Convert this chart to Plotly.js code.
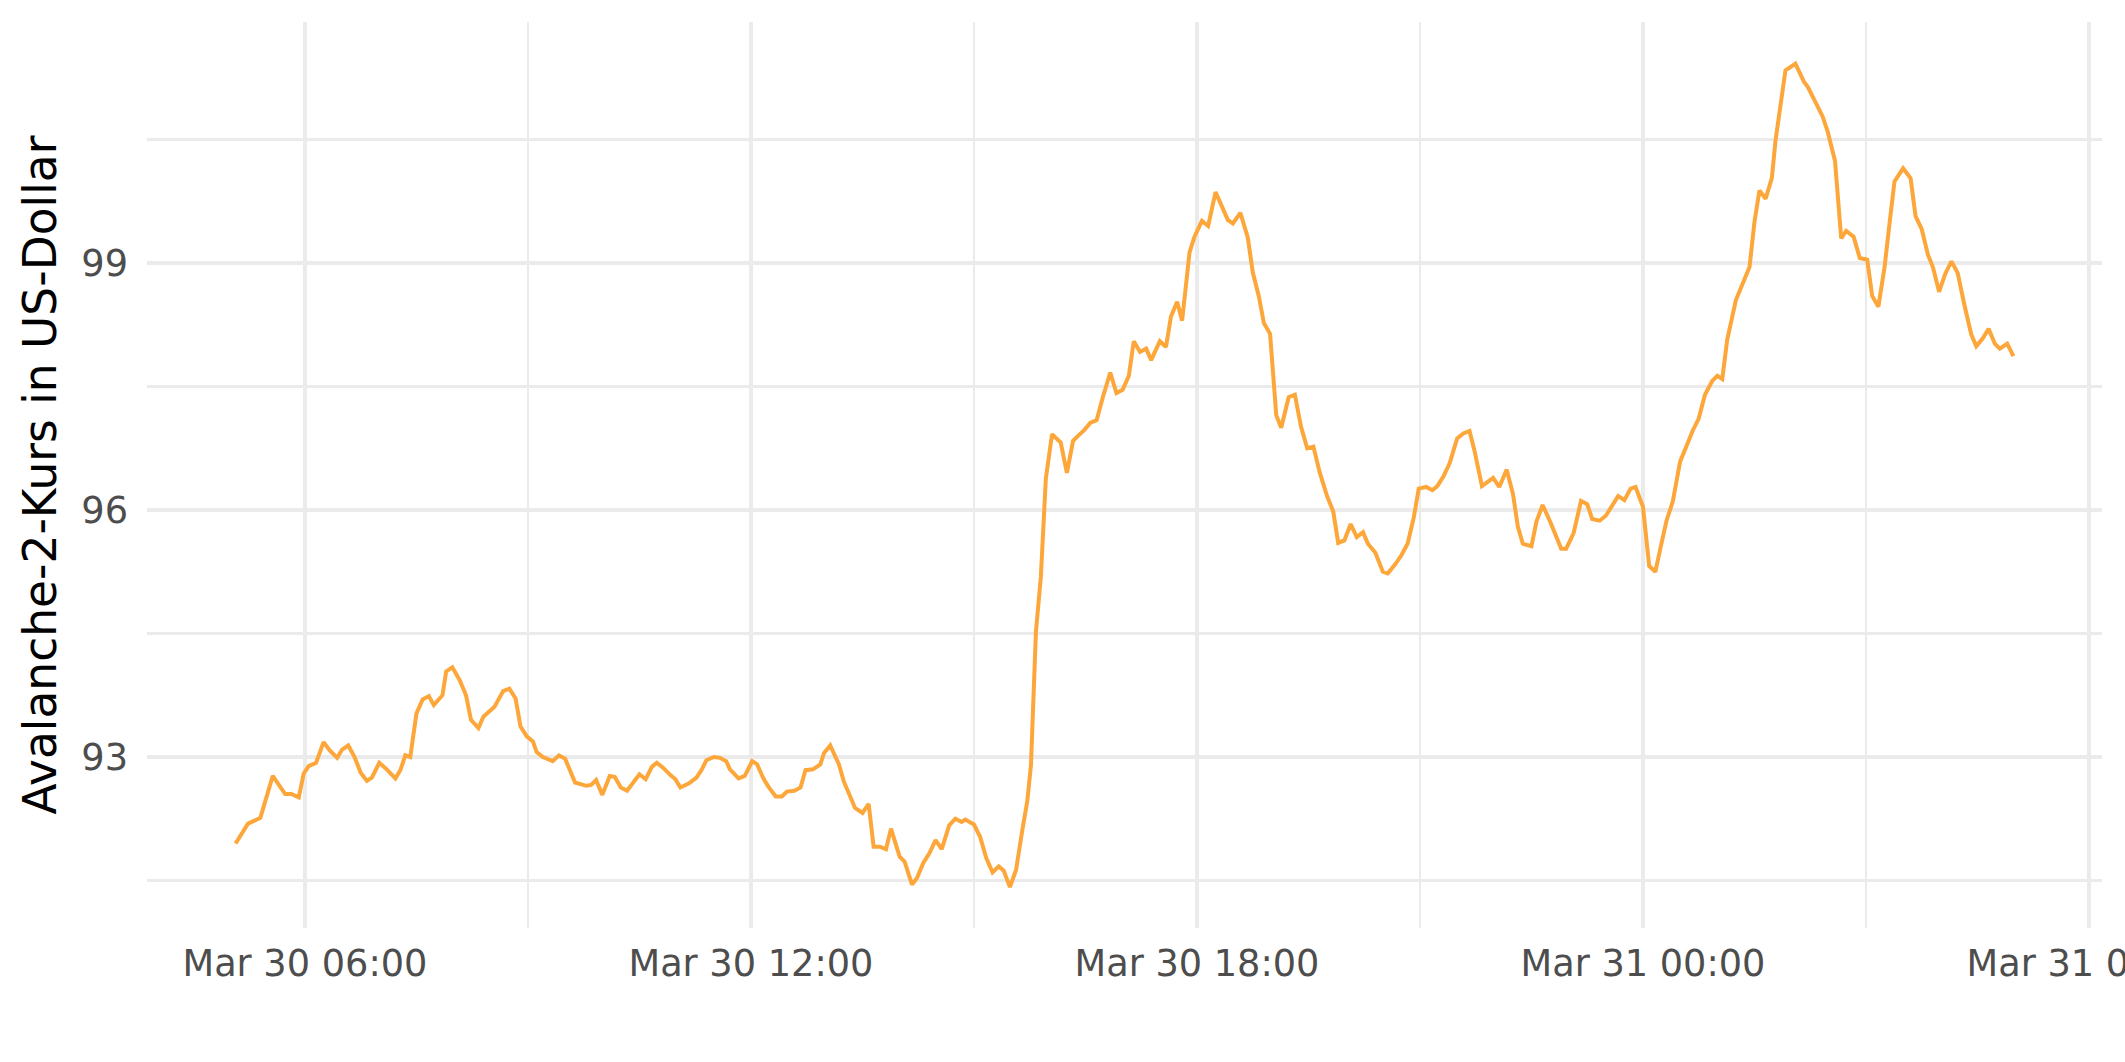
<!DOCTYPE html>
<html>
<head>
<meta charset="utf-8">
<script src="https://cdn.plot.ly/plotly-3.0.1.min.js"></script>
<style>
  html, body { margin: 0; padding: 0; background: #ffffff; }
  #chart { width: 2125px; height: 1062px; }
</style>
</head>
<body>
<div id="chart"></div>
<script>
// Avalanche-2 price (USD)
const time = [
  "2024-03-30 05:04","2024-03-30 05:10","2024-03-30 05:14","2024-03-30 05:24","2024-03-30 05:34","2024-03-30 05:44",
  "2024-03-30 05:49","2024-03-30 05:55","2024-03-30 05:59","2024-03-30 06:03","2024-03-30 06:09","2024-03-30 06:15",
  "2024-03-30 06:20","2024-03-30 06:26","2024-03-30 06:30","2024-03-30 06:35","2024-03-30 06:40","2024-03-30 06:45",
  "2024-03-30 06:50","2024-03-30 06:54","2024-03-30 07:00","2024-03-30 07:06","2024-03-30 07:13","2024-03-30 07:17",
  "2024-03-30 07:21","2024-03-30 07:25","2024-03-30 07:30","2024-03-30 07:35","2024-03-30 07:40","2024-03-30 07:44",
  "2024-03-30 07:51","2024-03-30 07:54","2024-03-30 07:59","2024-03-30 08:05","2024-03-30 08:10","2024-03-30 08:14",
  "2024-03-30 08:20","2024-03-30 08:24","2024-03-30 08:29","2024-03-30 08:33","2024-03-30 08:40","2024-03-30 08:45",
  "2024-03-30 08:50","2024-03-30 08:54","2024-03-30 08:59","2024-03-30 09:04","2024-03-30 09:07","2024-03-30 09:12",
  "2024-03-30 09:20","2024-03-30 09:25","2024-03-30 09:30","2024-03-30 09:38","2024-03-30 09:47","2024-03-30 09:51",
  "2024-03-30 09:55","2024-03-30 10:00","2024-03-30 10:06","2024-03-30 10:10","2024-03-30 10:15","2024-03-30 10:20",
  "2024-03-30 10:25","2024-03-30 10:30","2024-03-30 10:35","2024-03-30 10:40","2024-03-30 10:44","2024-03-30 10:49",
  "2024-03-30 10:55","2024-03-30 10:59","2024-03-30 11:03","2024-03-30 11:10","2024-03-30 11:16","2024-03-30 11:20",
  "2024-03-30 11:24","2024-03-30 11:30","2024-03-30 11:35","2024-03-30 11:40","2024-03-30 11:43","2024-03-30 11:50",
  "2024-03-30 11:55","2024-03-30 12:01","2024-03-30 12:05","2024-03-30 12:10","2024-03-30 12:14","2024-03-30 12:20",
  "2024-03-30 12:25","2024-03-30 12:29","2024-03-30 12:35","2024-03-30 12:40","2024-03-30 12:44","2024-03-30 12:50",
  "2024-03-30 12:56","2024-03-30 12:59","2024-03-30 13:04","2024-03-30 13:11","2024-03-30 13:15","2024-03-30 13:20",
  "2024-03-30 13:24","2024-03-30 13:30","2024-03-30 13:35","2024-03-30 13:39","2024-03-30 13:44","2024-03-30 13:49",
  "2024-03-30 13:53","2024-03-30 14:00","2024-03-30 14:04","2024-03-30 14:10","2024-03-30 14:14","2024-03-30 14:19",
  "2024-03-30 14:24","2024-03-30 14:29","2024-03-30 14:34","2024-03-30 14:40","2024-03-30 14:45","2024-03-30 14:50",
  "2024-03-30 14:53","2024-03-30 15:00","2024-03-30 15:05","2024-03-30 15:10","2024-03-30 15:15","2024-03-30 15:20",
  "2024-03-30 15:24","2024-03-30 15:29","2024-03-30 15:34","2024-03-30 15:39","2024-03-30 15:43","2024-03-30 15:46",
  "2024-03-30 15:50","2024-03-30 15:54","2024-03-30 15:58","2024-03-30 16:03","2024-03-30 16:10","2024-03-30 16:15",
  "2024-03-30 16:20","2024-03-30 16:24","2024-03-30 16:29","2024-03-30 16:34","2024-03-30 16:39","2024-03-30 16:44",
  "2024-03-30 16:50","2024-03-30 16:55","2024-03-30 17:00","2024-03-30 17:05","2024-03-30 17:09","2024-03-30 17:14",
  "2024-03-30 17:19","2024-03-30 17:23","2024-03-30 17:30","2024-03-30 17:35","2024-03-30 17:39","2024-03-30 17:44",
  "2024-03-30 17:48","2024-03-30 17:54","2024-03-30 17:58","2024-03-30 18:04","2024-03-30 18:09","2024-03-30 18:15",
  "2024-03-30 18:19","2024-03-30 18:25","2024-03-30 18:29","2024-03-30 18:35","2024-03-30 18:41","2024-03-30 18:45",
  "2024-03-30 18:50","2024-03-30 18:54","2024-03-30 18:59","2024-03-30 19:04","2024-03-30 19:08","2024-03-30 19:14",
  "2024-03-30 19:19","2024-03-30 19:24","2024-03-30 19:29","2024-03-30 19:34","2024-03-30 19:39","2024-03-30 19:45",
  "2024-03-30 19:50","2024-03-30 19:54","2024-03-30 19:59","2024-03-30 20:04","2024-03-30 20:09","2024-03-30 20:14",
  "2024-03-30 20:18","2024-03-30 20:24","2024-03-30 20:30","2024-03-30 20:34","2024-03-30 20:40","2024-03-30 20:45",
  "2024-03-30 20:50","2024-03-30 20:55","2024-03-30 20:59","2024-03-30 21:05","2024-03-30 21:10","2024-03-30 21:14",
  "2024-03-30 21:19","2024-03-30 21:24","2024-03-30 21:30","2024-03-30 21:35","2024-03-30 21:40","2024-03-30 21:44",
  "2024-03-30 21:50","2024-03-30 21:54","2024-03-30 21:59","2024-03-30 22:04","2024-03-30 22:10","2024-03-30 22:15",
  "2024-03-30 22:19","2024-03-30 22:23","2024-03-30 22:30","2024-03-30 22:34","2024-03-30 22:39","2024-03-30 22:45",
  "2024-03-30 22:50","2024-03-30 22:54","2024-03-30 22:58","2024-03-30 23:04","2024-03-30 23:10","2024-03-30 23:15",
  "2024-03-30 23:19","2024-03-30 23:25","2024-03-30 23:30","2024-03-30 23:35","2024-03-30 23:40","2024-03-30 23:45",
  "2024-03-30 23:50","2024-03-30 23:54","2024-03-31 00:00","2024-03-31 00:05","2024-03-31 00:10","2024-03-31 00:14",
  "2024-03-31 00:19","2024-03-31 00:24","2024-03-31 00:30","2024-03-31 00:35","2024-03-31 00:40","2024-03-31 00:45",
  "2024-03-31 00:50","2024-03-31 00:56","2024-03-31 01:00","2024-03-31 01:04","2024-03-31 01:08","2024-03-31 01:15",
  "2024-03-31 01:26","2024-03-31 01:30","2024-03-31 01:34","2024-03-31 01:39","2024-03-31 01:44","2024-03-31 01:47",
  "2024-03-31 01:51","2024-03-31 01:55","2024-03-31 02:03","2024-03-31 02:10","2024-03-31 02:13","2024-03-31 02:19",
  "2024-03-31 02:25","2024-03-31 02:29","2024-03-31 02:35","2024-03-31 02:40","2024-03-31 02:44","2024-03-31 02:50",
  "2024-03-31 02:55","2024-03-31 03:01","2024-03-31 03:05","2024-03-31 03:10","2024-03-31 03:15","2024-03-31 03:19",
  "2024-03-31 03:23","2024-03-31 03:30","2024-03-31 03:36","2024-03-31 03:40","2024-03-31 03:45","2024-03-31 03:50",
  "2024-03-31 03:54","2024-03-31 03:59","2024-03-31 04:04","2024-03-31 04:09","2024-03-31 04:14","2024-03-31 04:19",
  "2024-03-31 04:25","2024-03-31 04:29","2024-03-31 04:34","2024-03-31 04:39","2024-03-31 04:44","2024-03-31 04:48",
  "2024-03-31 04:54","2024-03-31 04:59"
];
const price = [
  91.95,92.09,92.19,92.26,92.77,92.55,
  92.55,92.51,92.80,92.89,92.93,93.18,
  93.08,92.99,93.09,93.14,93.00,92.81,
  92.71,92.75,92.93,92.85,92.74,92.84,
  93.02,93.00,93.53,93.70,93.74,93.63,
  93.75,94.04,94.09,93.93,93.75,93.45,
  93.35,93.49,93.55,93.61,93.80,93.83,
  93.71,93.37,93.25,93.19,93.06,93.00,
  92.95,93.02,92.98,92.69,92.65,92.66,
  92.72,92.54,92.77,92.76,92.63,92.59,
  92.69,92.79,92.73,92.88,92.93,92.87,
  92.78,92.73,92.63,92.68,92.75,92.84,
  92.96,93.00,92.99,92.95,92.85,92.74,
  92.77,92.95,92.91,92.74,92.64,92.52,
  92.52,92.58,92.59,92.63,92.84,92.85,
  92.91,93.05,93.14,92.91,92.70,92.52,
  92.38,92.32,92.43,91.91,91.91,91.88,
  92.13,91.79,91.73,91.45,91.53,91.71,
  91.83,91.99,91.88,92.17,92.25,92.21,
  92.24,92.18,92.03,91.77,91.60,91.67,
  91.62,91.42,91.63,92.11,92.46,92.90,
  94.52,95.19,96.38,96.92,96.82,96.45,
  96.84,96.90,96.97,97.06,97.09,97.37,
  97.67,97.42,97.46,97.63,98.05,97.92,
  97.96,97.82,98.05,97.98,98.35,98.53,
  98.30,99.13,99.32,99.51,99.45,99.86,
  99.73,99.52,99.48,99.61,99.31,98.89,
  98.59,98.27,98.14,97.15,97.00,97.37,
  97.40,97.01,96.75,96.77,96.46,96.17,
  95.98,95.60,95.63,95.83,95.67,95.73,
  95.59,95.48,95.25,95.23,95.34,95.45,
  95.59,95.91,96.26,96.28,96.24,96.29,
  96.41,96.57,96.87,96.93,96.96,96.72,
  96.29,96.34,96.39,96.28,96.49,96.20,
  95.80,95.59,95.56,95.86,96.06,95.86,
  95.66,95.53,95.53,95.72,96.11,96.07,
  95.89,95.87,95.93,96.05,96.17,96.12,
  96.26,96.28,96.04,95.32,95.25,95.53,
  95.87,96.10,96.59,96.77,96.96,97.11,
  97.40,97.57,97.63,97.59,98.07,98.55,
  98.95,99.50,99.88,99.78,100.03,100.49,
  100.92,101.34,101.42,101.20,101.14,100.96,
  100.78,100.60,100.24,99.30,99.39,99.32,
  99.06,99.04,98.60,98.47,98.95,99.48,
  99.99,100.15,100.03,99.57,99.41,99.10,
  98.95,98.65,98.87,99.02,98.88,98.52,
  98.13,97.99,98.08,98.20,98.02,97.96,
  98.02,97.87
];
const yTitle = "Avalanche-2-Kurs in US-Dollar";
const xTickFormat = "%b %d %H:%M";
const yTickVals = [93, 96, 99];

const trace = {
  type: "scatter",
  mode: "lines",
  x: time,
  y: price,
  line: { color: "#FDA63A", width: 4 },
  hoverinfo: "x+y"
};

const layout = {
  width: 2125,
  height: 1062,
  paper_bgcolor: "#ffffff",
  plot_bgcolor: "#ffffff",
  showlegend: false,
  margin: { l: 147, r: 23, t: 22, b: 134 },
  font: { family: "DejaVu Sans, sans-serif", color: "#4D4D4D", size: 36.7 },
  xaxis: {
    type: "date",
    range: ["2024-03-30 03:52:30", "2024-03-31 06:10:30"],
    tick0: "2024-03-30 00:00",
    dtick: 6 * 3600 * 1000,
    tickformat: xTickFormat,
    ticks: "",
    showline: false,
    zeroline: false,
    showgrid: true,
    gridcolor: "#EBEBEB",
    gridwidth: 4,
    ticklabelstandoff: 10,
    ticklabeloverflow: "allow",
    tickfont: { family: "DejaVu Sans, sans-serif", size: 36.7, color: "#4D4D4D" },
    minor: { tick0: "2024-03-30 00:00", dtick: 3 * 3600 * 1000, showgrid: true, gridcolor: "#EBEBEB", gridwidth: 2.4, ticks: "" }
  },
  yaxis: {
    range: [90.923, 101.927],
    tickvals: yTickVals,
    ticktext: yTickVals.map(String),
    ticks: "",
    showline: false,
    zeroline: false,
    showgrid: true,
    gridcolor: "#EBEBEB",
    gridwidth: 4,
    ticklabelstandoff: 18,
    tickfont: { family: "DejaVu Sans, sans-serif", size: 36.7, color: "#4D4D4D" },
    minor: { tick0: 91.5, dtick: 3, showgrid: true, gridcolor: "#EBEBEB", gridwidth: 2.4, ticks: "" },
    title: {
      text: yTitle,
      standoff: 10,
      font: { family: "DejaVu Sans, sans-serif", size: 45.5, color: "#000000" }
    }
  }
};

Plotly.newPlot("chart", [trace], layout, { displayModeBar: false, staticPlot: true });
</script>
</body>
</html>
